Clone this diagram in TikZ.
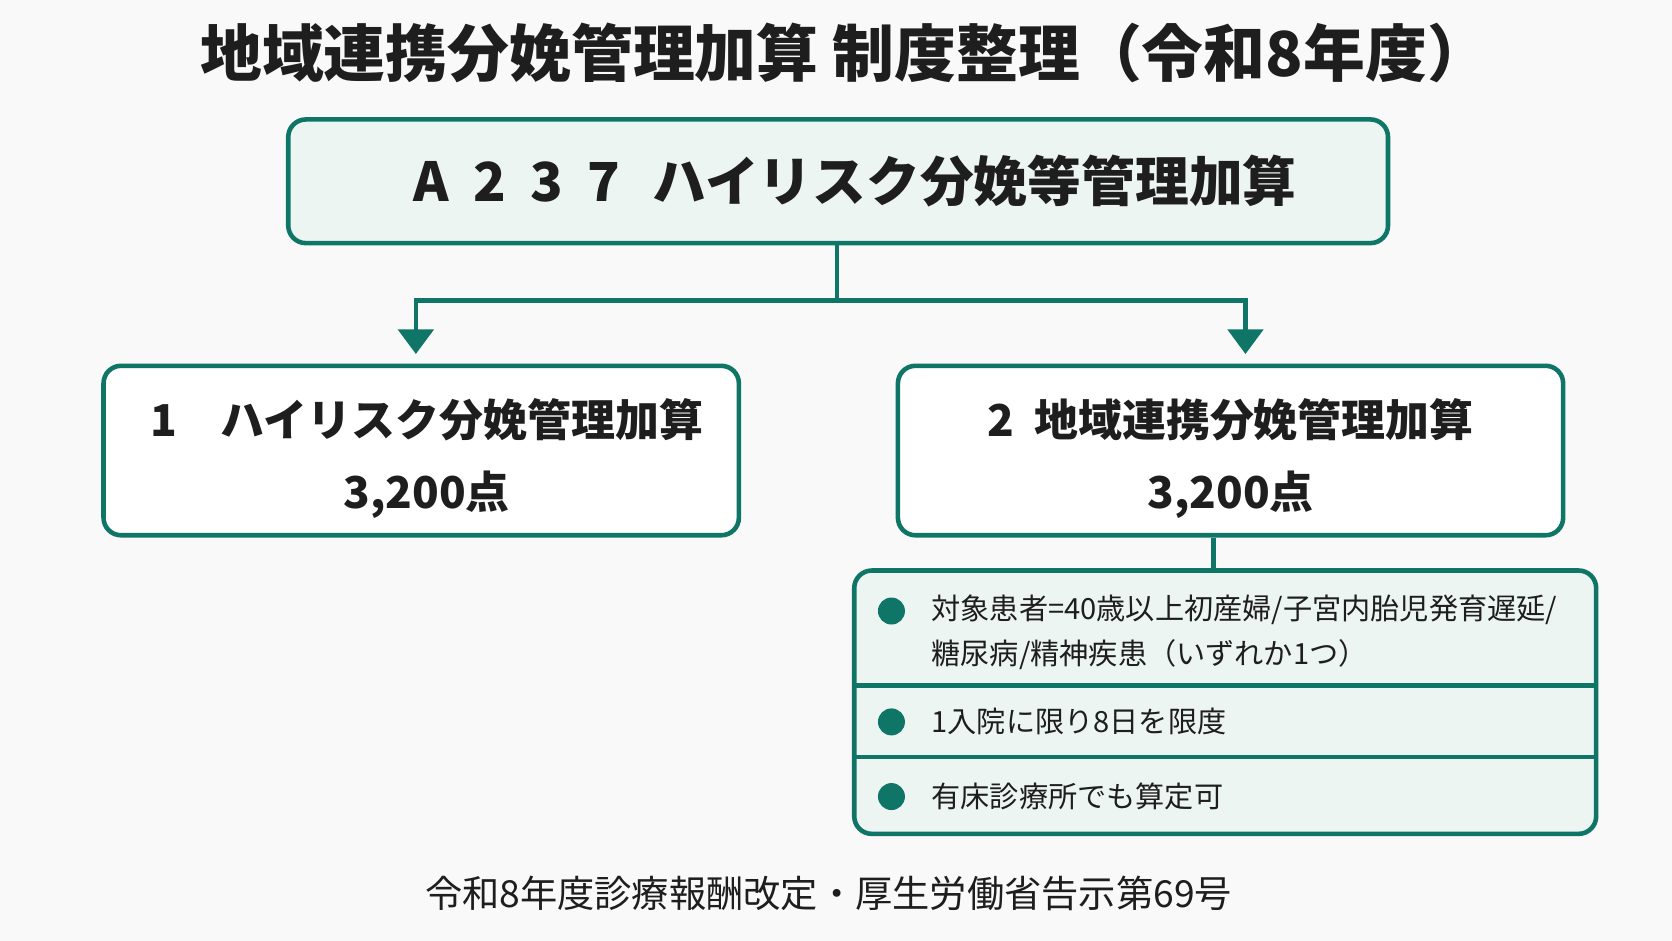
\documentclass[tikz,border=0pt]{standalone}
\usepackage{fontspec}
\setmainfont{Noto Sans CJK JP}
\usetikzlibrary{arrows.meta,positioning}
\definecolor{teal}{HTML}{0F7566}
\definecolor{pale}{HTML}{EDF5F3}
\definecolor{paper}{HTML}{F8F9F8}
\definecolor{ink}{HTML}{1E1E1E}

\begin{document}
\begin{tikzpicture}[
    x=0.010663cm, y=-0.010663cm,
    % Styles
    frame/.style={draw=teal, line width=1.3pt, rounded corners=5pt},
    head/.style={frame, fill=pale, minimum width=11cm, minimum height=1.237cm},
    item/.style={frame, fill=white, minimum height=1.695cm},
    itemtext/.style={align=center, text=ink,
                 font=\fontsize{12.5pt}{20.5pt}\selectfont\bfseries},
    row/.style={anchor=west, align=left, text=ink,
                font=\fontsize{8.3pt}{13pt}\selectfont},
    dot/.style={circle, fill=teal, inner sep=0pt, minimum size=0.27cm},
    link/.style={teal, line width=1.3pt},
    tip/.style={-{Triangle[length=7pt,width=10pt]}}
]
  \useasboundingbox[fill=paper] (0,0) rectangle (1568,882);

  % Title
  \node[font=\fontsize{17.6pt}{19pt}\selectfont\bfseries, text=ink] (title) at (792,50)
    {地域連携分娩管理加算 制度整理（令和8年度）};

  % Top box
  \node[head] (a237) at (786,170) {};
  \node[font=\fontsize{15.3pt}{18pt}\selectfont\bfseries, text=ink] (a237text) at (802,170)
    {A\hspace{0.45em}2\hspace{0.45em}3\hspace{0.45em}7\hspace{0.6em}ハイリスク分娩等管理加算};

  % Two branches
  \node[item, minimum width=6.355cm] (hr) at (395,422.5) {};
  \node[itemtext] (hrtext) at (400,430) {1\quad ハイリスク分娩管理加算\\3,200点};
  \node[item, minimum width=6.654cm] (rg) at (1154,422.5) {};
  \node[itemtext] (rgtext) at (1154,430) {2\ \ 地域連携分娩管理加算\\3,200点};

  \coordinate (fork) at (785,282);
  \coordinate (forkL) at (390,282);
  \coordinate (forkR) at (1168,282);
  \coordinate (tipL) at (390,332);
  \coordinate (tipR) at (1168,332);
  \draw[link] (a237.south -| fork) -- (fork);
  \draw[link, tip] (fork) -- (forkL) -- (tipL);
  \draw[link, tip] (fork) -- (forkR) -- (tipR);

  % Conditions panel
  \node[frame, fill=pale, minimum width=7.421cm, minimum height=2.634cm] (cond) at (1149,658.5) {};
  \coordinate (hook) at (1138,0);
  \draw[link] (hook |- rg.south) -- (hook |- cond.north);
  \draw[link] (cond.west |- 0,643) -- (cond.east |- 0,643);
  \draw[link] (cond.west |- 0,710) -- (cond.east |- 0,710);

  \node[dot] (d1) at (836,573) {};
  \node[dot] (d2) at (836,677) {};
  \node[dot] (d3) at (836,747) {};
  \node[row] (r1) at (862,593)
    {対象患者=40歳以上初産婦/子宮内胎児発育遅延/\\糖尿病/精神疾患（いずれか1つ）};
  \node[row] (r2) at (862,677) {1入院に限り8日を限度};
  \node[row] (r3) at (862,747) {有床診療所でも算定可};

  % Source
  \node[font=\fontsize{10.6pt}{12pt}\selectfont, text=ink] (src) at (777,838)
    {令和8年度診療報酬改定・厚生労働省告示第69号};
\end{tikzpicture}
\end{document}
